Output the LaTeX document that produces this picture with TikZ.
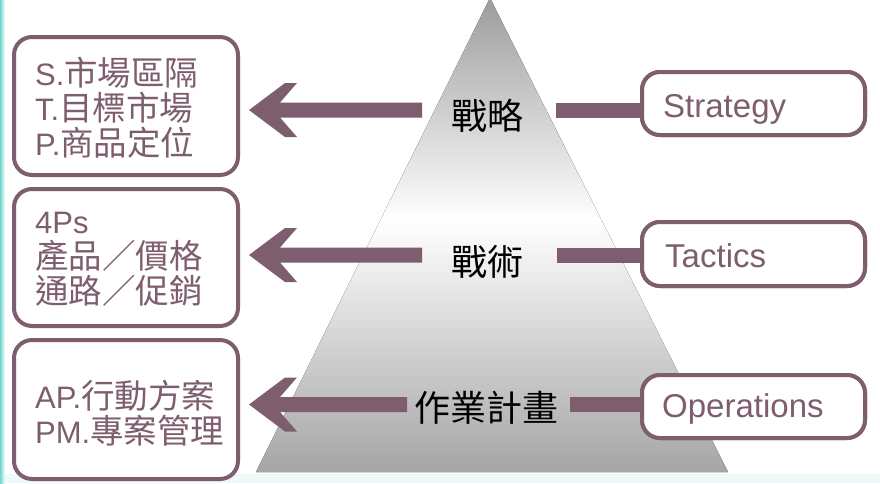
\documentclass[tikz,border=0pt]{standalone}
\usepackage{fontspec}
\setmainfont{Liberation Sans}
\newfontfamily\cjk[Scale=1.08]{Noto Sans CJK TC}
\newfontfamily\cjklab{Noto Sans CJK TC}
\usetikzlibrary{calc}
\definecolor{mauve}{RGB}{126,94,110}
\definecolor{pyrtop}{RGB}{156,156,156}
\definecolor{pyrbot}{RGB}{165,165,165}
\definecolor{edgecyan}{RGB}{112,214,208}
\definecolor{bottomcyan}{RGB}{236,250,250}
\newcommand{\chevarrow}[2]{%
  \fill[mauve] (#1) -- ++(36,-27) -- ++(12,0) -- ++(-17,19.5)
    -- ($(#1 -| #2)+(0,-7.5)$) -- ($(#1 -| #2)+(0,7.5)$)
    -- ($(#1)+(31,7.5)$) -- ++(17,19.5) -- ++(-12,0) -- cycle;}
\begin{document}
\begin{tikzpicture}[x=1pt,y=-1pt,
  boxline/.style={draw=mauve, line width=4pt, rounded corners=18pt, fill=white, inner sep=0pt},
  lbox/.style={boxline, minimum width=224pt},
  rbox/.style={boxline, minimum width=223pt},
  ltext/.style={text=mauve, align=left, inner sep=0pt, anchor=base west, font={\fontsize{31}{35}\selectfont}},
  rtext/.style={text=mauve, inner sep=0pt, anchor=base west, font={\fontsize{33}{36}\selectfont}},
  lab/.style={text=black, inner sep=0pt, font={\fontsize{36}{40}\selectfont\cjklab}}]
% background
\fill[white] (0,0) rectangle (880,483);
\fill[bottomcyan] (0,474) rectangle (880,483);
\fill[left color=edgecyan, right color=white] (0,0) rectangle (5,483);
\useasboundingbox (0,0) rectangle (880,483);
% pyramid
\coordinate (apex) at (490,-2);
\coordinate (bl) at (256,472);
\coordinate (br) at (728,472);
\begin{scope}
  \clip (apex) -- (br) -- (bl) -- cycle;
  \fill[top color=pyrtop, bottom color=white] (250,-3) rectangle (735,220);
  \fill[top color=white, bottom color=pyrbot] (250,219.5) rectangle (735,473);
\end{scope}
% pyramid labels
\node[lab] (l1) at (487.5,116) {戰略};
\node[lab] (l2) at (487.5,261.5) {戰術};
\node[lab] (l3) at (486,408) {作業計畫};
% arrow geometry
\coordinate (tip1) at (249,110);
\coordinate (tip2) at (249,255);
\coordinate (tip3) at (249,404.5);
\coordinate (s1) at (422,110);
\coordinate (s2) at (422,255);
\coordinate (s3) at (407,404.5);
\coordinate (r1) at (556,110);
\coordinate (r2) at (557,255);
\coordinate (r3) at (570,404.5);
\chevarrow{tip1}{s1}
\chevarrow{tip2}{s2}
\chevarrow{tip3}{s3}
% right boxes
\node[rbox, minimum height=63pt] (strat) at (753.5,103.5) {};
\node[rbox, minimum height=64pt] (tact) at (753.5,254) {};
\node[rbox, minimum height=63pt] (oper) at (753.5,406.5) {};
\fill[mauve] ($(r1)+(0,-7.5)$) rectangle ($(strat.west |- r1)+(0,7.5)$);
\fill[mauve] ($(r2)+(0,-7.5)$) rectangle ($(tact.west |- r2)+(0,7.5)$);
\fill[mauve] ($(r3)+(0,-7.5)$) rectangle ($(oper.west |- r3)+(0,7.5)$);
\node[rbox, minimum height=63pt] at (strat) {};
\node[rbox, minimum height=64pt] at (tact) {};
\node[rbox, minimum height=63pt] at (oper) {};
\node[rtext] (strat-t) at (663,117) {Strategy};
\node[rtext] (tact-t) at (665,267) {Tactics};
\node[rtext] (oper-t) at (662,417) {Operations};
% left boxes
\node[lbox, minimum height=138pt] (b1) at (126,106) {};
\node[lbox, minimum height=137pt] (b2) at (126,257.5) {};
\node[lbox, minimum height=139pt] (b3) at (126,409.5) {};
\node[ltext] (b1-t) at (35,155) {S.{\cjk 市場區隔}\\T.{\cjk 目標市場}\\P.{\cjk 商品定位}};
\node[ltext] (b2-t) at (35,303) {4Ps\\{\cjk 產品／價格}\\{\cjk 通路／促銷}};
\node[ltext] (b3-t) at (35,443) {AP.{\cjk 行動方案}\\PM.{\cjk 專案管理}};
\end{tikzpicture}
\end{document}
